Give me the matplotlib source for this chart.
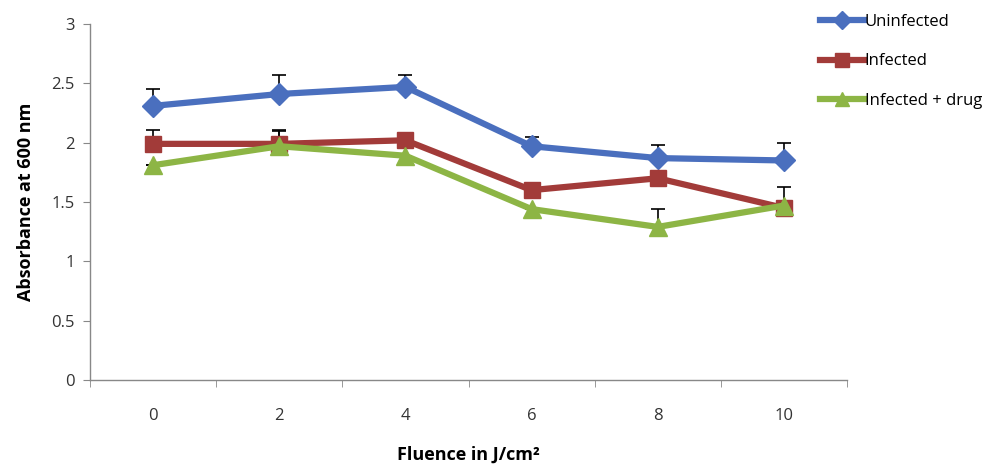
import matplotlib.pyplot as plt
import numpy as np

fluence = ['0', '2', '4', '6', '8', '10']
uninfected = [2.31, 2.41, 2.47, 1.97, 1.87, 1.85]
uninfected_err = [0.14, 0.16, 0.10, 0.08, 0.11, 0.15]
infected = [1.99, 1.99, 2.02, 1.60, 1.70, 1.45]
infected_err = [0.12, 0.12, 0.0, 0.0, 0.03, 0.18]
drug = [1.81, 1.97, 1.89, 1.44, 1.29, 1.47]
drug_err = [0.0, 0.13, 0.0, 0.0, 0.15, 0.0]

plt.rcParams['font.family'] = ['Open Sans', 'DejaVu Sans']

fig = plt.figure(figsize=(9.96, 4.67), dpi=100)
ax = fig.add_axes([90/996, 1 - 380/467, (847 - 90)/996, (380 - 24)/467])

x = np.arange(len(fluence))
series = [
    ('Uninfected', uninfected, uninfected_err, '#4A6FBE', 'D', 11),
    ('Infected', infected, infected_err, '#A23B39', 's', 12),
    ('Infected + drug', drug, drug_err, '#8DB545', '^', 13),
]

for name, vals, err, col, mk, ms in series:
    ax.errorbar(x, vals, yerr=[np.zeros(len(err)), err], fmt='none',
                ecolor='black', elinewidth=1.2, capsize=5, capthick=1.2, zorder=2)
    ax.plot(x, vals, color=col, lw=4.5, marker=mk, markersize=ms,
            markerfacecolor=col, markeredgecolor=col, label=name, zorder=3)

ax.set_xlim(-0.5, len(fluence) - 0.5)
ax.set_ylim(0, 3)
ax.set_yticks(np.arange(0, 3.01, 0.5))
ax.set_yticklabels(['0', '0.5', '1', '1.5', '2', '2.5', '3'])
ax.set_xticks(x)
ax.set_xticklabels(fluence)
ax.set_xticks(np.arange(-0.5, len(fluence), 1), minor=True)
ax.tick_params(axis='x', which='major', length=0, pad=20, labelsize=12, colors='#333333')
ax.tick_params(axis='x', which='minor', length=5, color='#888888')
ax.tick_params(axis='y', length=5, color='#888888', labelsize=12, colors='#333333', pad=6)

for s in ['top', 'right']:
    ax.spines[s].set_visible(False)
for s in ['left', 'bottom']:
    ax.spines[s].set_color('#888888')
    ax.spines[s].set_linewidth(1)

ax.set_ylabel('Absorbance at 600 nm', fontsize=13, fontweight='bold', labelpad=12)
ax.set_xlabel('Fluence in J/cm²', fontsize=13, fontweight='bold', labelpad=16)

ax.legend(loc='upper left', bbox_to_anchor=(0.945, 1.07), frameon=False,
          fontsize=12, handlelength=2.6, handletextpad=0.05,
          labelspacing=1.4, markerscale=0.8)

fig.savefig('out.png', dpi=100)
